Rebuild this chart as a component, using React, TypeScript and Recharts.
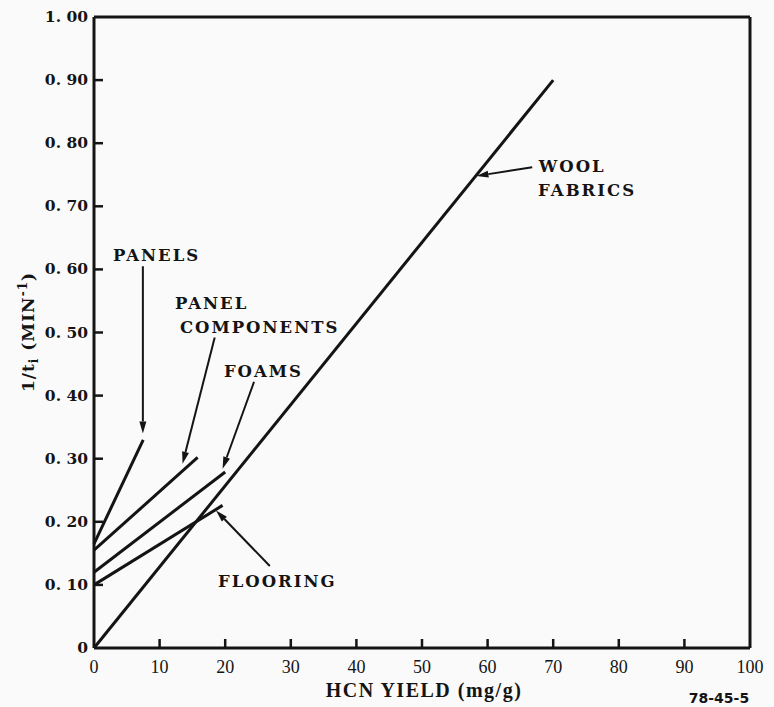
import React from "react";
import {
  LineChart, Line, XAxis, YAxis, ReferenceLine, ReferenceDot,
} from "recharts";

// series (x = HCN yield mg/g, y = 1/t_i)
const WOOL_FABRICS = [{ x: 0, y: 0 }, { x: 70, y: 0.9 }];
const PANELS = [{ x: 0, y: 0.165 }, { x: 7.5, y: 0.33 }];
const PANEL_COMPONENTS = [{ x: 0, y: 0.155 }, { x: 15.8, y: 0.302 }];
const FOAMS = [{ x: 0, y: 0.12 }, { x: 20, y: 0.279 }];
const FLOORING = [{ x: 0, y: 0.1 }, { x: 19.6, y: 0.226 }];

const X_TICKS = [0, 10, 20, 30, 40, 50, 60, 70, 80, 90, 100];
const Y_TICKS = [0, 0.1, 0.2, 0.3, 0.4, 0.5, 0.6, 0.7, 0.8, 0.9, 1.0];
const Y_TICK_LABELS = ["0", "0. 10", "0. 20", "0. 30", "0. 40", "0. 50", "0. 60", "0. 70", "0. 80", "0. 90", "1. 00"];

// callout arrows: tail -> tip, in data units
const ARROWS = [
  { from: [7.45, 0.605], to: [7.45, 0.34] },
  { from: [18.4, 0.492], to: [13.5, 0.292] },
  { from: [24.4, 0.422], to: [19.6, 0.284] },
  { from: [26.8, 0.13], to: [18.6, 0.218] },
  { from: [66.8, 0.762], to: [58.3, 0.748] },
];

const CALLOUTS = [
  { x: 2.9, y: 0.613, text: "PANELS" },
  { x: 12.35, y: 0.538, text: "PANEL" },
  { x: 13.1, y: 0.5, text: "COMPONENTS" },
  { x: 19.8, y: 0.43, text: "FOAMS" },
  { x: 18.9, y: 0.097, text: "FLOORING" },
  { x: 67.8, y: 0.754, text: "WOOL" },
  { x: 67.7, y: 0.717, text: "FABRICS" },
];

const INK = "#141414";
const labelFont = "'DejaVu Serif', serif";

const Arrow = (props: any) => {
  const { x1, y1, x2, y2 } = props;
  const ang = Math.atan2(y2 - y1, x2 - x1);
  const len = 12;
  const w = 3.5;
  const bx = x2 - len * Math.cos(ang);
  const by = y2 - len * Math.sin(ang);
  const px = -Math.sin(ang) * w;
  const py = Math.cos(ang) * w;
  return (
    <g>
      <line x1={x1} y1={y1} x2={bx} y2={by} stroke={INK} strokeWidth={2} />
      <polygon points={`${x2},${y2} ${bx + px},${by + py} ${bx - px},${by - py}`} fill={INK} />
    </g>
  );
};

const YTick = (props: any) => {
  const { x, y, index } = props;
  return (
    <g>
      {index > 0 && index < Y_TICKS.length - 1 && (
        <line x1={x} y1={y} x2={x + 9} y2={y} stroke={INK} strokeWidth={2.5} />
      )}
      <text x={x - 6} y={y + 5} textAnchor="end" fontFamily={labelFont} fontWeight="bold" fontSize={15.5} fill={INK}>
        {Y_TICK_LABELS[index]}
      </text>
    </g>
  );
};

const XTick = (props: any) => {
  const { x, y, index } = props;
  return (
    <g>
      {index > 0 && index < X_TICKS.length - 1 && (
        <line x1={x} y1={y} x2={x} y2={y - 9} stroke={INK} strokeWidth={2.5} />
      )}
      <text x={x} y={y + 25} textAnchor="middle" fontFamily="'Liberation Serif', serif" fontSize={18} fill={INK}>
        {X_TICKS[index]}
      </text>
    </g>
  );
};

const Callout = (props: any) => {
  const { cx, cy, text } = props;
  return (
    <text x={cx} y={cy} fontFamily={labelFont} fontWeight="bold" fontSize={16.5} letterSpacing={2} fill={INK}>
      {text}
    </text>
  );
};

export default function App() {
  return (
    <div style={{ position: "absolute", left: 0, top: 0, width: 774, height: 707, background: "#fafafa" }}>
      <LineChart width={774} height={707} margin={{ top: 17, right: 24, bottom: 29, left: 14 }}>
        <XAxis
          type="number"
          dataKey="x"
          domain={[0, 100]}
          ticks={X_TICKS}
          height={30}
          tickSize={0}
          tickMargin={0}
          tickLine={false}
          axisLine={{ stroke: INK, strokeWidth: 3 }}
          tick={<XTick />}
          interval={0}
        />
        <YAxis
          type="number"
          dataKey="y"
          domain={[0, 1]}
          ticks={Y_TICKS}
          width={80}
          tickSize={0}
          tickMargin={0}
          tickLine={false}
          axisLine={{ stroke: INK, strokeWidth: 3 }}
          tick={<YTick />}
          interval={0}
        />
        <ReferenceLine y={1} stroke={INK} strokeWidth={3} />
        <ReferenceLine x={100} stroke={INK} strokeWidth={3} />

        <Line data={WOOL_FABRICS} dataKey="y" stroke={INK} strokeWidth={3} dot={false} isAnimationActive={false} />
        <Line data={PANELS} dataKey="y" stroke={INK} strokeWidth={3} dot={false} isAnimationActive={false} />
        <Line data={PANEL_COMPONENTS} dataKey="y" stroke={INK} strokeWidth={3} dot={false} isAnimationActive={false} />
        <Line data={FOAMS} dataKey="y" stroke={INK} strokeWidth={3} dot={false} isAnimationActive={false} />
        <Line data={FLOORING} dataKey="y" stroke={INK} strokeWidth={3} dot={false} isAnimationActive={false} />

        {ARROWS.map((a, i) => (
          <ReferenceLine
            key={`a${i}`}
            segment={[{ x: a.from[0], y: a.from[1] }, { x: a.to[0], y: a.to[1] }]}
            shape={<Arrow />}
          />
        ))}
        {CALLOUTS.map((c, i) => (
          <ReferenceDot key={`c${i}`} x={c.x} y={c.y} r={0} shape={<Callout text={c.text} />} />
        ))}
      </LineChart>

      <svg width={774} height={707} style={{ position: "absolute", left: 0, top: 0, pointerEvents: "none" }}>
        <text
          transform="translate(34,332) rotate(-90)"
          textAnchor="middle"
          fontFamily={labelFont}
          fontWeight="bold"
          fontSize={17}
          letterSpacing={1}
          fill={INK}
        >
          1/t<tspan fontSize={12} dy={4}>i</tspan>
          <tspan dy={-4}> (MIN</tspan>
          <tspan fontSize={12} dy={-7}>-1</tspan>
          <tspan dy={7}>)</tspan>
        </text>
        <text x={424} y={697} textAnchor="middle" fontFamily="'Liberation Serif', serif" fontWeight="bold" fontSize={20} letterSpacing={1.5} fill={INK}>
          HCN YIELD (mg/g)
        </text>
        <text x={719} y={703} textAnchor="middle" fontFamily="'DejaVu Sans', sans-serif" fontWeight="bold" fontSize={14} fill={INK}>
          78-45-5
        </text>
      </svg>
    </div>
  );
}
